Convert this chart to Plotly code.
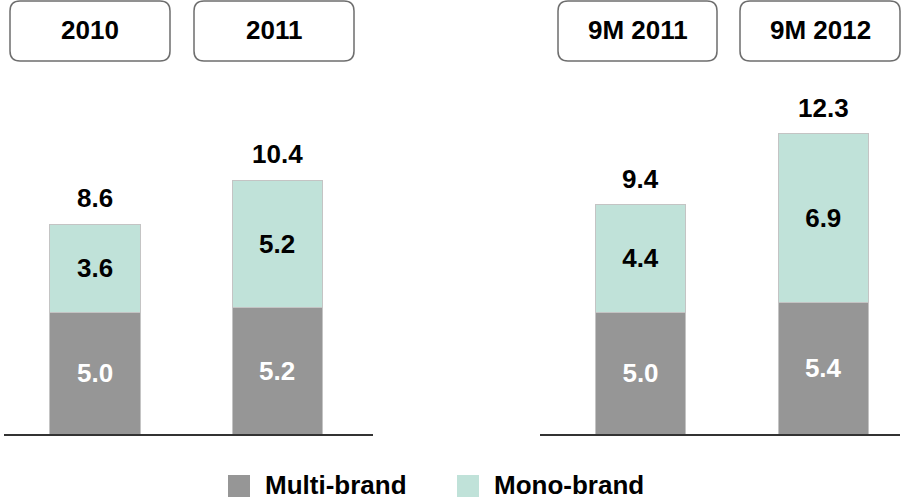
import plotly.graph_objects as go

W, H = 903, 499

left_periods = ["2010", "2011"]
right_periods = ["9M 2011", "9M 2012"]
left_multi = [5.0, 5.2]
left_mono = [3.6, 5.2]
right_multi = [5.0, 5.4]
right_mono = [4.4, 6.9]
left_total = [8.6, 10.4]
right_total = [9.4, 12.3]
series_names = ["Multi-brand", "Mono-brand"]

C_MULTI = "#969696"
C_MONO = "#c0e2d9"
FONT = "Liberation Sans, Arial, sans-serif"
FS = 26

def px_x(p):
    return p / W

def px_y(p):
    return 1 - p / H

fig = go.Figure()

BAR_W = 0.495
for xa, ya, cats, multi, mono, tot in [
    ("x", "y", left_periods, left_multi, left_mono, left_total),
    ("x2", "y2", right_periods, right_multi, right_mono, right_total),
]:
    fig.add_trace(go.Bar(
        x=cats, y=multi, name=series_names[0], xaxis=xa, yaxis=ya,
        marker=dict(color=C_MULTI, line=dict(color="#c4c4c4", width=1)),
        width=BAR_W, text=[f"{v:.1f}" for v in multi], textposition="inside",
        insidetextanchor="middle",
        textfont=dict(color="white", size=FS, family=FONT, weight="bold"),
        showlegend=False,
    ))
    fig.add_trace(go.Bar(
        x=cats, y=mono, name=series_names[1], xaxis=xa, yaxis=ya,
        marker=dict(color=C_MONO, line=dict(color="#c4c4c4", width=1)),
        width=BAR_W, text=[f"{v:.1f}" for v in mono], textposition="inside",
        insidetextanchor="middle",
        textfont=dict(color="black", size=FS, family=FONT, weight="bold"),
        showlegend=False,
    ))
    for i, t in enumerate(tot):
        fig.add_annotation(
            x=i, y=t, xref=xa, yref=ya, text=f"<b>{t:.1f}</b>", showarrow=False,
            yanchor="bottom", yshift=9,
            font=dict(size=FS, color="black", family=FONT),
        )

ymax = (434 - 80) / 24.4
ydom = [px_y(434), px_y(80)]

axis_common = dict(showgrid=False, zeroline=False, showticklabels=False, ticks="",
                   showline=True, linecolor="#333333", linewidth=1.5, fixedrange=True)
fig.update_layout(
    barmode="stack",
    width=W, height=H,
    margin=dict(l=0, r=0, t=0, b=0),
    paper_bgcolor="white", plot_bgcolor="white",
    showlegend=False,
    uniformtext=dict(minsize=FS, mode="show"),
    xaxis=dict(domain=[px_x(4), px_x(373)], range=[-0.5, 1.527], type="category", **axis_common),
    yaxis=dict(domain=ydom, range=[0, ymax], visible=False),
    xaxis2=dict(domain=[px_x(540), px_x(900)], range=[-0.55, 1.42], type="category",
                anchor="y2", **axis_common),
    yaxis2=dict(domain=ydom, range=[0, ymax], visible=False, anchor="x2"),
)

# rounded header boxes
def rrect(x0, y0, x1, y1, r=10):
    rx, ry = r / W, r / H
    X0, X1 = px_x(x0), px_x(x1)
    Y0, Y1 = px_y(y0), px_y(y1)  # Y0 top, Y1 bottom
    return (f"M {X0+rx},{Y0} L {X1-rx},{Y0} Q {X1},{Y0} {X1},{Y0-ry} "
            f"L {X1},{Y1+ry} Q {X1},{Y1} {X1-rx},{Y1} "
            f"L {X0+rx},{Y1} Q {X0},{Y1} {X0},{Y1+ry} "
            f"L {X0},{Y0-ry} Q {X0},{Y0} {X0+rx},{Y0} Z")

headers = left_periods + right_periods
boxes = [(10, 1, 170, 61), (194, 1, 354, 61), (558, 1, 717, 61), (740, 1, 900, 61)]
for label, (x0, y0, x1, y1) in zip(headers, boxes):
    fig.add_shape(type="path", path=rrect(x0, y0, x1, y1), xref="paper", yref="paper",
                  line=dict(color="#6e6e6e", width=1.5), fillcolor="white")
    fig.add_annotation(x=px_x((x0 + x1) / 2), y=px_y((y0 + y1) / 2 - 1), xref="paper", yref="paper",
                       text=f"<b>{label}</b>", showarrow=False, xanchor="center", yanchor="middle",
                       font=dict(size=FS, color="black", family=FONT))

# legend
legend_items = [(series_names[0], C_MULTI, 228), (series_names[1], C_MONO, 457)]
for name, col, lx in legend_items:
    fig.add_shape(type="rect", xref="paper", yref="paper",
                  x0=px_x(lx), x1=px_x(lx + 22), y0=px_y(497), y1=px_y(475),
                  fillcolor=col, line=dict(width=0))
    fig.add_annotation(x=px_x(lx + 36), y=px_y(499), xref="paper", yref="paper",
                       text=f"<b>{name}</b>", showarrow=False, xanchor="left", yanchor="bottom",
                       borderpad=0, yshift=-2,
                       font=dict(size=FS, color="black", family=FONT))

fig.write_html("out.html")
